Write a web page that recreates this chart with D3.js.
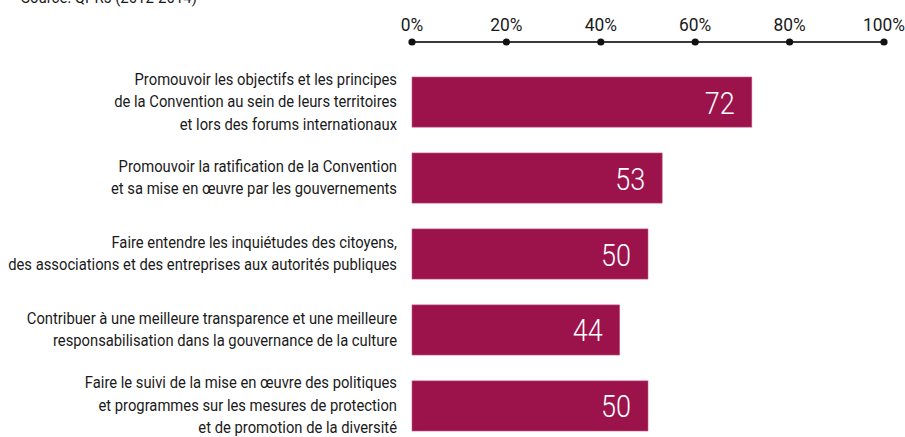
<!DOCTYPE html>
<html>
<head>
<meta charset="utf-8">
<script src="https://cdn.jsdelivr.net/npm/d3@7"></script>
<style>
  html, body { margin: 0; padding: 0; background: #fff; }
  svg { display: block; }
  text { font-family: Roboto, "Open Sans", sans-serif; font-weight: 400; }
  text.value { font-weight: 300; }
</style>
</head>
<body>
<svg id="chart" width="905" height="437"></svg>
<script>
// Roles of civil society – share of reports mentioning each activity (%)
const categories = [
  ["Promouvoir les objectifs et les principes", "de la Convention au sein de leurs territoires", "et lors des forums internationaux"],
  ["Promouvoir la ratification de la Convention", "et sa mise en œuvre par les gouvernements"],
  ["Faire entendre les inquiétudes des citoyens,", "des associations et des entreprises aux autorités publiques"],
  ["Contribuer à une meilleure transparence et une meilleure", "responsabilisation dans la gouvernance de la culture"],
  ["Faire le suivi de la mise en œuvre des politiques", "et programmes sur les mesures de protection", "et de promotion de la diversité"]
];
const values = [72, 53, 50, 44, 50];
const tickValues = [0, 20, 40, 60, 80, 100];
const tickLabels = ["0%", "20%", "40%", "60%", "80%", "100%"];
const sourceText = "Source: QPRs (2012-2014)";

const svg = d3.select("#chart");
const barColor = "#9c124b";

const x = d3.scaleLinear().domain([0, 100]).range([412, 884]);
const y = d3.scaleBand()
  .domain(d3.range(categories.length))
  .range([77, 431])
  .paddingInner(0.34)
  .paddingOuter(0);

// narrow-set type: compress text horizontally around its anchor
function condense(group, width, refNode) {
  const w = refNode.getComputedTextLength();
  const sx = width / w;
  group.attr("transform", function () {
    const t = d3.select(this).attr("data-t") || "";
    return t + ` scale(${sx},1)`;
  });
}

// source note, partly above the top edge
const srcG = svg.append("g").attr("data-t", "translate(21,3)");
const srcT = srcG.append("text")
  .attr("font-size", 17).attr("fill", "#1a1a1a")
  .text(sourceText);
condense(srcG, 176, srcT.node());

// top axis: line with dot markers
const axisY = 42;
svg.append("line")
  .attr("x1", x(0)).attr("x2", x(100))
  .attr("y1", axisY).attr("y2", axisY)
  .attr("stroke", "#3a3a3a").attr("stroke-width", 2);

const ticks = svg.append("g").selectAll("g")
  .data(tickValues).join("g")
  .attr("transform", d => `translate(${x(d)},0)`);
ticks.append("circle")
  .attr("cy", axisY).attr("r", 3.6).attr("fill", "#111");
const tickG = ticks.append("g")
  .attr("data-t", "translate(0,31)");
tickG.append("text")
  .attr("text-anchor", "middle")
  .attr("font-size", 19).attr("fill", "#1a1a1a")
  .text((d, i) => tickLabels[i]);
condense(tickG, 42, tickG.filter(d => d === 100).select("text").node());

// bars
svg.append("g").selectAll("rect")
  .data(values).join("rect")
  .attr("x", x(0))
  .attr("y", (d, i) => y(i))
  .attr("width", d => x(d) - x(0))
  .attr("height", y.bandwidth())
  .attr("fill", barColor)
  .attr("stroke", "#c25d86").attr("stroke-width", 0.6);

// value labels inside bar ends
const valG = svg.append("g").selectAll("g")
  .data(values).join("g")
  .attr("data-t", (d, i) => `translate(${x(d) - 17},${y(i) + y.bandwidth() / 2})`);
valG.append("text")
  .attr("class", "value")
  .attr("dy", "0.36em")
  .attr("text-anchor", "end")
  .attr("font-size", 32).attr("fill", "#fff")
  .text(d => d);
condense(valG, 30, valG.filter((d, i) => i === 0).select("text").node());

// category labels, right aligned, multi-line
const lineH = 22.5;
const labX = 397;
const labG = svg.append("g").selectAll("g")
  .data(categories).join("g")
  .attr("data-t", (d, i) => `translate(${labX},${y(i) + y.bandwidth() / 2 - (d.length - 1) * lineH / 2 - 1})`);
const labT = labG.append("text")
  .attr("text-anchor", "end")
  .attr("font-size", 17).attr("fill", "#1a1a1a");
labT.selectAll("tspan")
  .data(d => d.map((t, j) => ({ t, j })))
  .join("tspan")
  .attr("x", 0)
  .attr("y", d => d.j * lineH)
  .attr("dy", "0.35em")
  .text(d => d.t);
// widest line sets the compression for all labels
const widest = labT.selectAll("tspan").filter(d => d.t.startsWith("des associations")).node();
const wW = widest.getComputedTextLength();
labG.attr("transform", function () {
  return d3.select(this).attr("data-t") + ` scale(${389 / wW},1)`;
});
</script>
</body>
</html>
